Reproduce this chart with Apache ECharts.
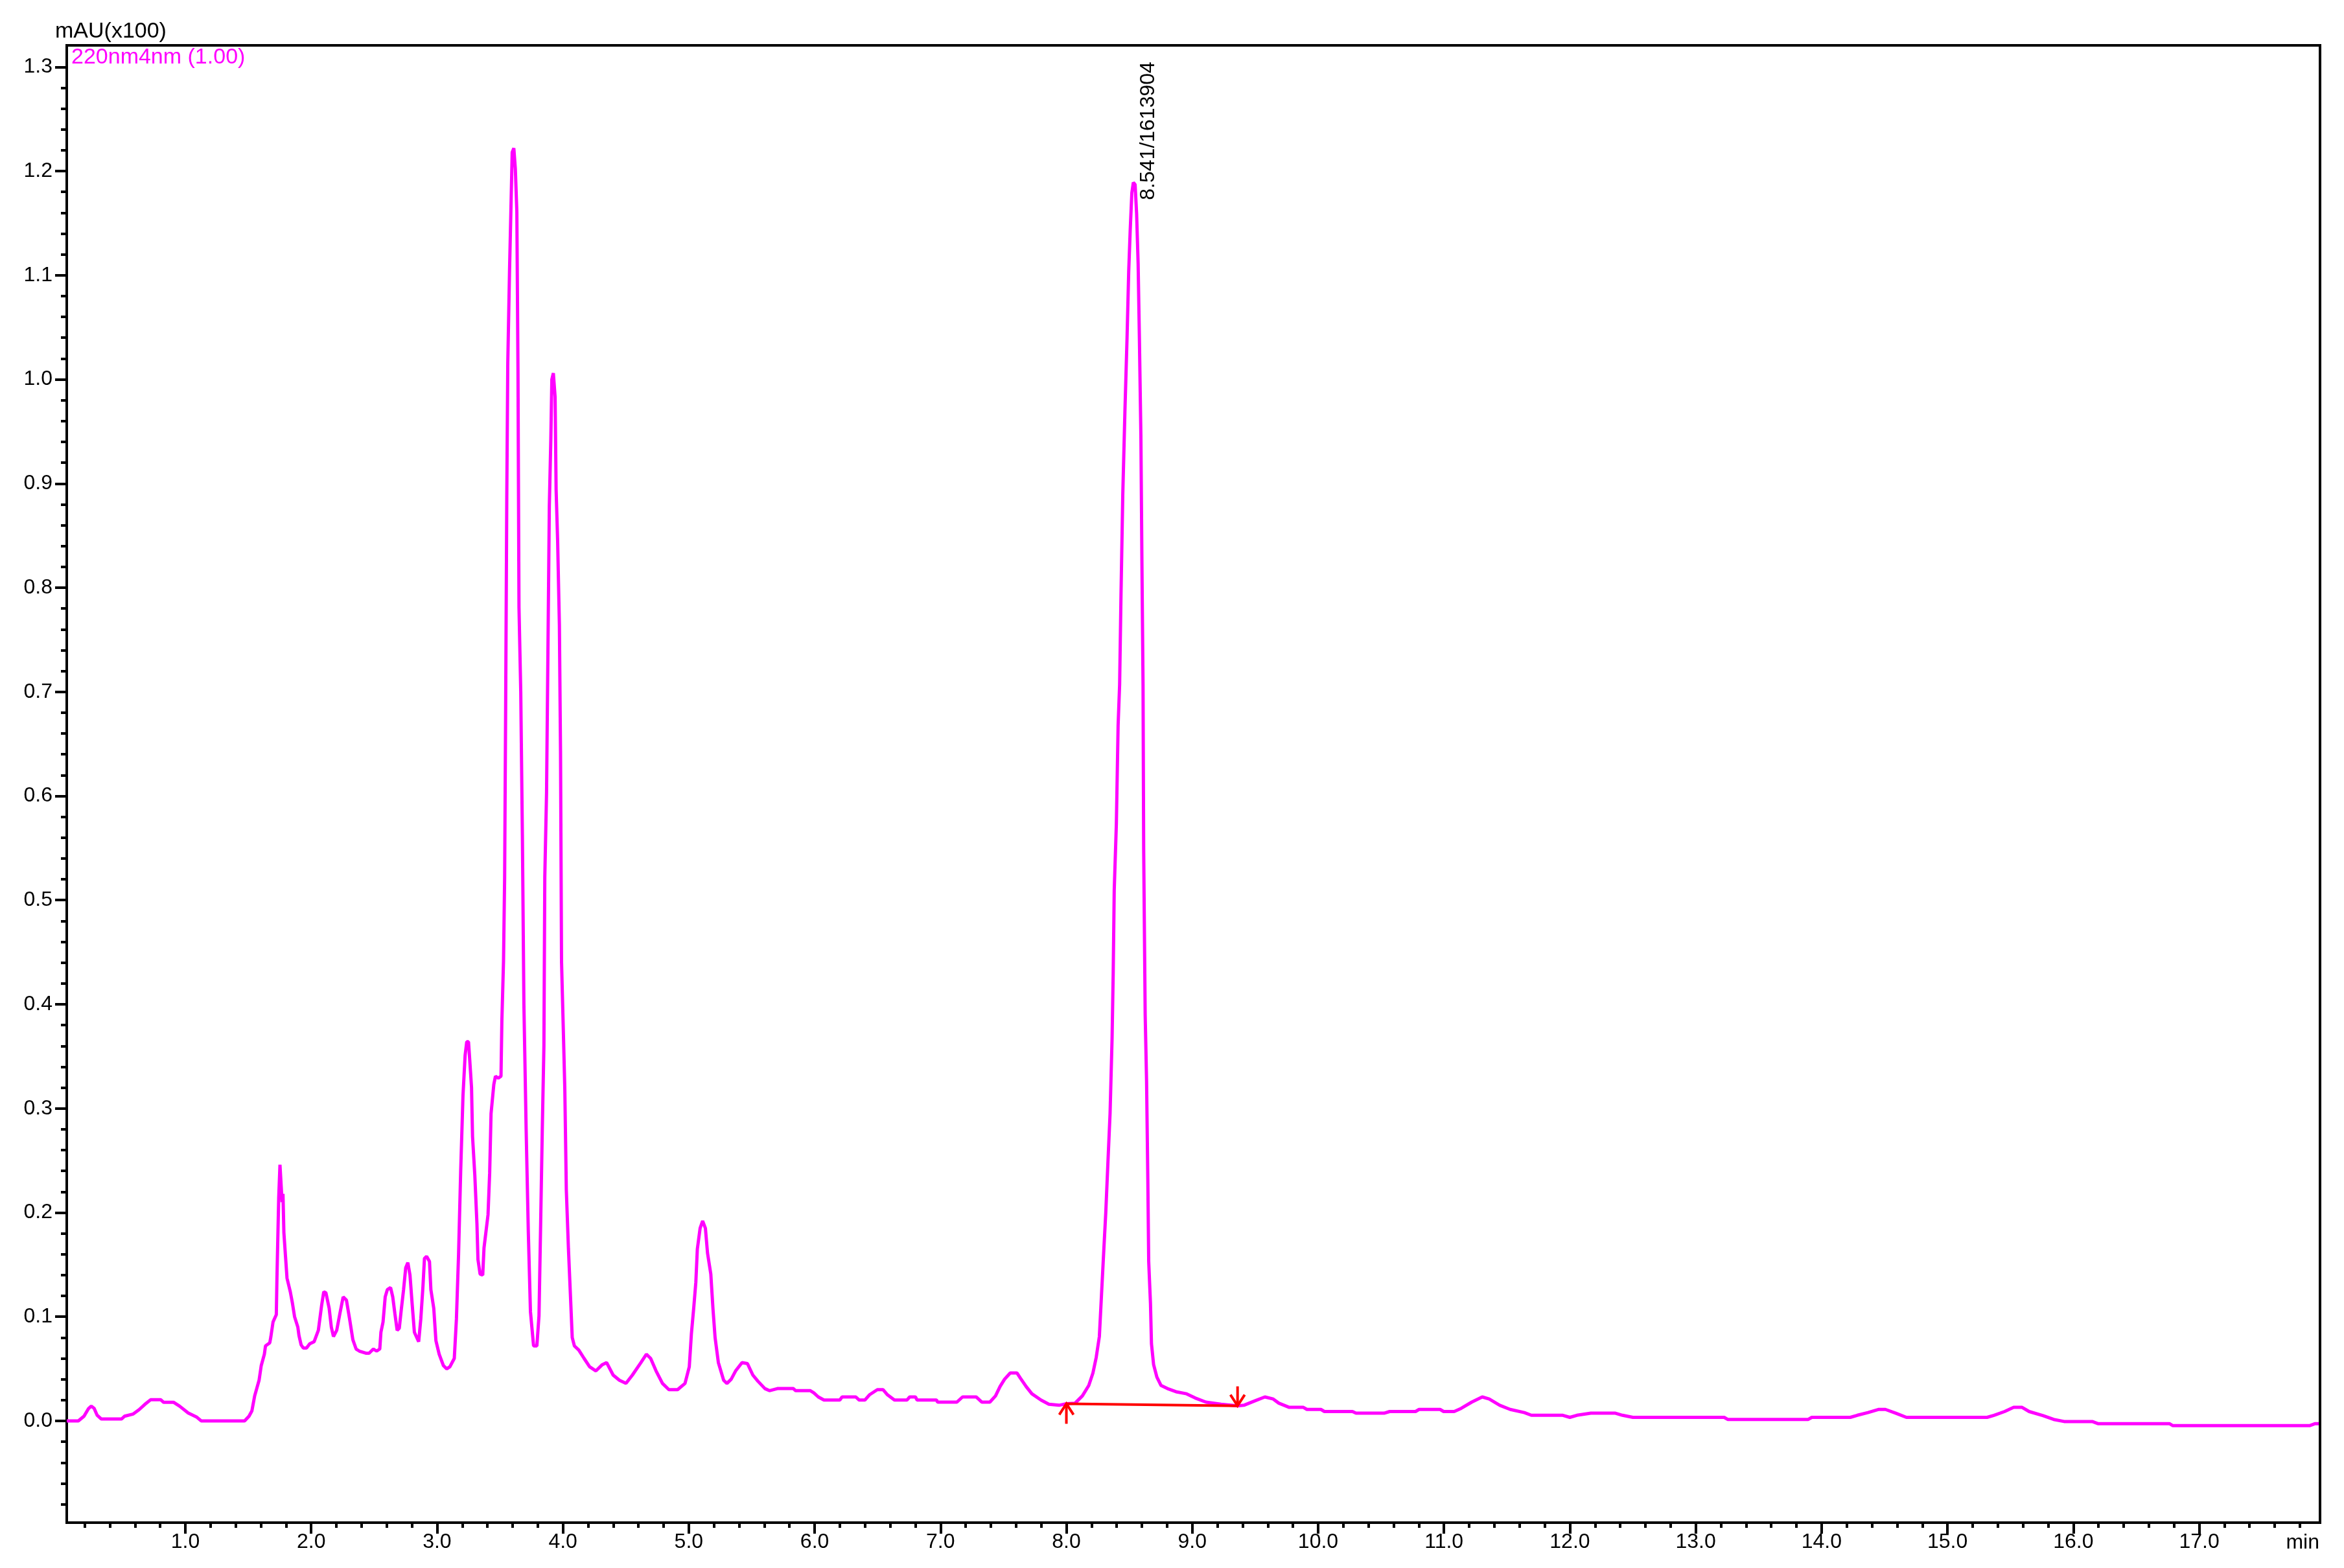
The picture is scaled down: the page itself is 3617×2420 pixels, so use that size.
<!DOCTYPE html>
<html>
<head>
<meta charset="utf-8">
<title>220nm4nm chromatogram</title>
<script src="https://cdn.jsdelivr.net/npm/echarts@6/dist/echarts.min.js"></script>
<style>
  html, body { margin: 0; padding: 0; background: #fff; }
  #chart { width: 3617px; height: 2420px; }
</style>
</head>
<body>
<div id="chart"></div>
<script>
// retention time, min
const timeMin = [
  0.058, 0.15, 0.195, 0.23, 0.253, 0.276, 0.299, 0.333, 0.494, 0.517, 0.586, 0.632, 0.678, 0.724, 0.805, 0.828,
  0.908, 0.954, 1.023, 1.092, 1.126, 1.471, 1.506, 1.529, 1.551, 1.586, 1.603, 1.628, 1.637, 1.671, 1.68, 1.697,
  1.723, 1.728, 1.735, 1.742, 1.752, 1.762, 1.769, 1.776, 1.783, 1.796, 1.808, 1.834, 1.851, 1.868, 1.894, 1.903,
  1.92, 1.937, 1.963, 1.988, 2.023, 2.057, 2.083, 2.1, 2.117, 2.143, 2.16, 2.177, 2.203, 2.228, 2.254, 2.28,
  2.305, 2.331, 2.357, 2.383, 2.434, 2.46, 2.494, 2.52, 2.545, 2.554, 2.571, 2.588, 2.605, 2.631, 2.648, 2.665,
  2.683, 2.7, 2.717, 2.734, 2.751, 2.768, 2.785, 2.803, 2.82, 2.854, 2.871, 2.888, 2.9, 2.917, 2.94, 2.951,
  2.974, 2.991, 3.017, 3.051, 3.077, 3.102, 3.137, 3.154, 3.171, 3.188, 3.206, 3.223, 3.236, 3.25, 3.26, 3.274,
  3.282, 3.3, 3.317, 3.325, 3.342, 3.363, 3.373, 3.405, 3.418, 3.429, 3.451, 3.464, 3.486, 3.508, 3.515, 3.528,
  3.537, 3.545, 3.554, 3.562, 3.576, 3.588, 3.597, 3.61, 3.622, 3.634, 3.643, 3.651, 3.665, 3.678, 3.69, 3.708,
  3.725, 3.742, 3.767, 3.793, 3.81, 3.822, 3.836, 3.849, 3.856, 3.87, 3.883, 3.892, 3.904, 3.912, 3.924, 3.938,
  3.946, 3.958, 3.972, 3.981, 3.989, 4.003, 4.015, 4.027, 4.044, 4.061, 4.074, 4.091, 4.126, 4.168, 4.212, 4.262,
  4.313, 4.347, 4.399, 4.449, 4.501, 4.552, 4.62, 4.663, 4.697, 4.74, 4.791, 4.842, 4.911, 4.97, 5.004, 5.021,
  5.039, 5.056, 5.068, 5.09, 5.11, 5.132, 5.149, 5.175, 5.192, 5.209, 5.235, 5.277, 5.303, 5.337, 5.372, 5.423,
  5.466, 5.509, 5.55, 5.605, 5.641, 5.704, 5.831, 5.849, 5.966, 5.993, 6.029, 6.074, 6.2, 6.218, 6.327, 6.354,
  6.399, 6.435, 6.498, 6.543, 6.579, 6.634, 6.733, 6.755, 6.801, 6.814, 6.968, 6.977, 7.13, 7.175, 7.283, 7.329,
  7.392, 7.437, 7.473, 7.509, 7.554, 7.608, 7.635, 7.68, 7.726, 7.798, 7.861, 7.942, 8.0, 8.069, 8.127, 8.178,
  8.211, 8.237, 8.262, 8.279, 8.296, 8.313, 8.33, 8.347, 8.363, 8.372, 8.38, 8.397, 8.411, 8.423, 8.434, 8.448,
  8.465, 8.482, 8.495, 8.507, 8.52, 8.532, 8.546, 8.558, 8.57, 8.58, 8.592, 8.6, 8.609, 8.614, 8.626, 8.637,
  8.647, 8.654, 8.668, 8.676, 8.693, 8.719, 8.752, 8.803, 8.871, 8.955, 9.023, 9.109, 9.229, 9.36, 9.41, 9.493,
  9.577, 9.643, 9.688, 9.771, 9.883, 9.911, 10.022, 10.05, 10.273, 10.301, 10.524, 10.568, 10.774, 10.802, 10.969, 10.997,
  11.081, 11.136, 11.22, 11.304, 11.359, 11.443, 11.526, 11.638, 11.694, 11.944, 12.0, 12.056, 12.167, 12.362, 12.418, 12.501,
  13.226, 13.254, 13.894, 13.922, 14.228, 14.284, 14.368, 14.451, 14.507, 14.59, 14.674, 15.315, 15.37, 15.454, 15.526, 15.593,
  15.649, 15.76, 15.844, 15.927, 16.15, 16.195, 16.763, 16.791, 17.877, 17.922, 17.95
]

// detector signal, mAU (x100)
const signal = [
  0, 0, 0.0045, 0.0117, 0.0142, 0.012, 0.0055, 0.0018, 0.0018, 0.0045, 0.0066, 0.0107, 0.0158, 0.0203, 0.0203, 0.0178,
  0.0178, 0.0142, 0.0076, 0.0035, 0, 0, 0.0045, 0.0096, 0.024, 0.039, 0.053, 0.064, 0.072, 0.075, 0.081, 0.095,
  0.102, 0.137, 0.176, 0.214, 0.246, 0.245, 0.21, 0.218, 0.181, 0.158, 0.137, 0.124, 0.113, 0.1, 0.09, 0.082,
  0.073, 0.07, 0.07, 0.074, 0.076, 0.087, 0.111, 0.124, 0.123, 0.108, 0.09, 0.081, 0.087, 0.103, 0.119, 0.116,
  0.098, 0.078, 0.069, 0.067, 0.065, 0.065, 0.069, 0.067, 0.069, 0.085, 0.095, 0.119, 0.126, 0.128, 0.119, 0.103,
  0.087, 0.089, 0.108, 0.126, 0.147, 0.152, 0.14, 0.111, 0.085, 0.076, 0.098, 0.129, 0.156, 0.158, 0.153, 0.126,
  0.108, 0.077, 0.064, 0.053, 0.05, 0.052, 0.06, 0.098, 0.16, 0.241, 0.312, 0.351, 0.364, 0.364, 0.346, 0.32,
  0.273, 0.236, 0.189, 0.155, 0.141, 0.14, 0.166, 0.198, 0.238, 0.295, 0.323, 0.331, 0.329, 0.331, 0.384, 0.441,
  0.522, 0.684, 0.886, 1.016, 1.105, 1.169, 1.218, 1.222, 1.202, 1.161, 1.008, 0.781, 0.7, 0.562, 0.4, 0.279,
  0.182, 0.105, 0.072, 0.072, 0.101, 0.182, 0.279, 0.36, 0.522, 0.603, 0.764, 0.878, 0.943, 1.0, 1.006, 0.983,
  0.894, 0.845, 0.764, 0.643, 0.441, 0.376, 0.319, 0.222, 0.165, 0.117, 0.08, 0.072, 0.068, 0.06, 0.052, 0.048,
  0.054, 0.056, 0.044, 0.039, 0.036, 0.044, 0.056, 0.064, 0.06, 0.048, 0.036, 0.03, 0.03, 0.036, 0.052, 0.084,
  0.108, 0.133, 0.165, 0.185, 0.192, 0.185, 0.161, 0.141, 0.108, 0.08, 0.056, 0.039, 0.036, 0.04, 0.048, 0.056,
  0.055, 0.044, 0.038, 0.031, 0.029, 0.031, 0.031, 0.029, 0.029, 0.027, 0.023, 0.02, 0.02, 0.023, 0.023, 0.02,
  0.02, 0.025, 0.03, 0.03, 0.025, 0.02, 0.02, 0.023, 0.023, 0.02, 0.02, 0.018, 0.018, 0.023, 0.023, 0.018,
  0.018, 0.024, 0.033, 0.04, 0.046, 0.046, 0.041, 0.033, 0.026, 0.02, 0.016, 0.015, 0.0165, 0.017, 0.024, 0.034,
  0.046, 0.061, 0.081, 0.121, 0.161, 0.2, 0.248, 0.295, 0.367, 0.43, 0.509, 0.573, 0.668, 0.707, 0.794, 0.889,
  0.969, 1.04, 1.103, 1.143, 1.179, 1.189, 1.187, 1.159, 1.111, 1.04, 0.945, 0.826, 0.707, 0.549, 0.39, 0.327,
  0.232, 0.153, 0.113, 0.074, 0.054, 0.042, 0.034, 0.031, 0.028, 0.026, 0.022, 0.018, 0.016, 0.0145, 0.015, 0.019,
  0.023, 0.021, 0.017, 0.013, 0.013, 0.011, 0.011, 0.009, 0.009, 0.0074, 0.0074, 0.009, 0.009, 0.011, 0.011, 0.009,
  0.009, 0.012, 0.018, 0.023, 0.021, 0.015, 0.011, 0.008, 0.0054, 0.0054, 0.0034, 0.0054, 0.0074, 0.0074, 0.0054, 0.0034,
  0.0034, 0.0014, 0.0014, 0.0034, 0.0034, 0.0054, 0.008, 0.011, 0.011, 0.0074, 0.0034, 0.0034, 0.0054, 0.009, 0.013, 0.013,
  0.009, 0.005, 0.0014, -0.0006, -0.0006, -0.0026, -0.0026, -0.0046, -0.0046, -0.0026, -0.0026
]

// integrated peak
const peakTimes = [8.541]
const peakAreas = [1613904]
// integration baseline of that peak: start and end
const baselineTimes = [8.0, 9.36]
const baselineLevels = [0.0165, 0.0145]

// axes
const xRange = [0.058, 17.96]
const yRange = [-0.0977, 1.3207]
const xMajorTicks = [1, 2, 3, 4, 5, 6, 7, 8, 9, 10, 11, 12, 13, 14, 15, 16, 17]
const yMajorTicks = [0, 0.1, 0.2, 0.3, 0.4, 0.5, 0.6, 0.7, 0.8, 0.9, 1.0, 1.1, 1.2, 1.3]

const FONT = '"Liberation Sans", Arial, Helvetica, sans-serif'
const MAGENTA = '#ff00ff'
const RED = '#ff0000'

// minor ticks every 0.2 min / 0.02 units
const xMinorTicks = []
for (let i = 1; i < 90; i++) {
  if (i % 5 !== 0) xMinorTicks.push(i / 5)
}
const yMinorTicks = []
for (let i = -4; i < 65; i++) {
  if (i % 5 !== 0) yMinorTicks.push(i / 50)
}

const traceData = timeMin.map((t, i) => [t, signal[i]])
const baselineData = baselineTimes.map((t, i) => [t, baselineLevels[i]])

function majorAxis (range, ticks, tickLen, margin) {
  return {
    type: 'value',
    min: range[0],
    max: range[1],
    axisLine: { show: true, onZero: false, lineStyle: { color: '#000', width: 4 } },
    axisTick: { show: true, inside: false, length: tickLen, customValues: ticks, lineStyle: { color: '#000', width: 4 } },
    axisLabel: {
      show: true,
      customValues: ticks,
      margin: margin,
      color: '#000',
      fontFamily: FONT,
      fontSize: 32,
      formatter: v => v.toFixed(1)
    },
    splitLine: { show: false }
  }
}

function minorAxis (range, ticks, tickLen) {
  return {
    type: 'value',
    min: range[0],
    max: range[1],
    axisLine: { show: false, onZero: false },
    axisTick: { show: true, inside: false, length: tickLen, customValues: ticks, lineStyle: { color: '#000', width: 4 } },
    axisLabel: { show: false },
    splitLine: { show: false }
  }
}

const chart = echarts.init(document.getElementById('chart'), null, { renderer: 'canvas' })

const xMain = Object.assign(majorAxis(xRange, xMajorTicks, 17, 14), { position: 'bottom' })
const xMinor = Object.assign(minorAxis(xRange, xMinorTicks, 8), { position: 'bottom' })
const yMain = Object.assign(majorAxis(yRange, yMajorTicks, 18, 22), { position: 'left' })
const yMinor = Object.assign(minorAxis(yRange, yMinorTicks, 9), { position: 'left' })

chart.setOption({
  animation: false,
  backgroundColor: '#fff',
  grid: {
    left: 103,
    right: 37,
    top: 70,
    bottom: 70,
    show: true,
    borderColor: '#000',
    borderWidth: 4,
    containLabel: false,
    outerBoundsMode: 'none'
  },
  xAxis: [xMain, xMinor],
  yAxis: [yMain, yMinor],
  series: [
    {
      name: '220nm4nm',
      type: 'line',
      xAxisIndex: 0,
      yAxisIndex: 0,
      data: traceData,
      showSymbol: false,
      symbol: 'none',
      smooth: false,
      sampling: null,
      lineStyle: { color: MAGENTA, width: 5 },
      z: 2
    },
    {
      name: 'baseline',
      type: 'line',
      xAxisIndex: 0,
      yAxisIndex: 0,
      data: baselineData,
      showSymbol: false,
      symbol: 'none',
      lineStyle: { color: RED, width: 4 },
      z: 3
    }
  ]
})

// annotations placed through the chart's own scales
const toPx = p => chart.convertToPixel({ seriesIndex: 0 }, p)

let apexLevel = 0
timeMin.forEach((t, i) => {
  if (Math.abs(t - peakTimes[0]) < 0.1 && signal[i] > apexLevel) apexLevel = signal[i]
})
const apex = toPx([peakTimes[0], apexLevel])
const start = toPx(baselineData[0])
const end = toPx(baselineData[1])

const arrowStyle = { stroke: RED, lineWidth: 4, fill: null }
const graphics = [
  {
    type: 'text',
    x: 85,
    y: 49,
    style: { text: 'mAU(x100)', font: '34px ' + FONT, fill: '#000', align: 'left', verticalAlign: 'middle' }
  },
  {
    type: 'text',
    x: 110,
    y: 89,
    style: { text: '220nm4nm (1.00)', font: '34px ' + FONT, fill: MAGENTA, align: 'left', verticalAlign: 'middle' }
  },
  {
    type: 'text',
    x: 3579,
    y: 2381,
    style: { text: 'min', font: '32px ' + FONT, fill: '#000', align: 'right', verticalAlign: 'middle' }
  },
  {
    type: 'text',
    x: apex[0] + 6,
    y: apex[1] + 27,
    rotation: Math.PI / 2,
    style: {
      text: peakTimes[0].toFixed(3) + '/' + peakAreas[0],
      font: '32px ' + FONT,
      fill: '#000',
      align: 'left',
      verticalAlign: 'top'
    },
    z: 10
  },
  // peak start marker (up arrow)
  { type: 'polyline', shape: { points: [[start[0], start[1] + 31], [start[0], start[1]]] }, style: arrowStyle, z: 10 },
  { type: 'polyline', shape: { points: [[start[0] - 11, start[1] + 17], [start[0], start[1]], [start[0] + 11, start[1] + 17]] }, style: arrowStyle, z: 10 },
  // peak end marker (down arrow)
  { type: 'polyline', shape: { points: [[end[0], end[1] - 30], [end[0], end[1]]] }, style: arrowStyle, z: 10 },
  { type: 'polyline', shape: { points: [[end[0] - 11, end[1] - 17], [end[0], end[1]], [end[0] + 11, end[1] - 17]] }, style: arrowStyle, z: 10 }
]

chart.setOption({ graphic: graphics })
</script>
</body>
</html>
